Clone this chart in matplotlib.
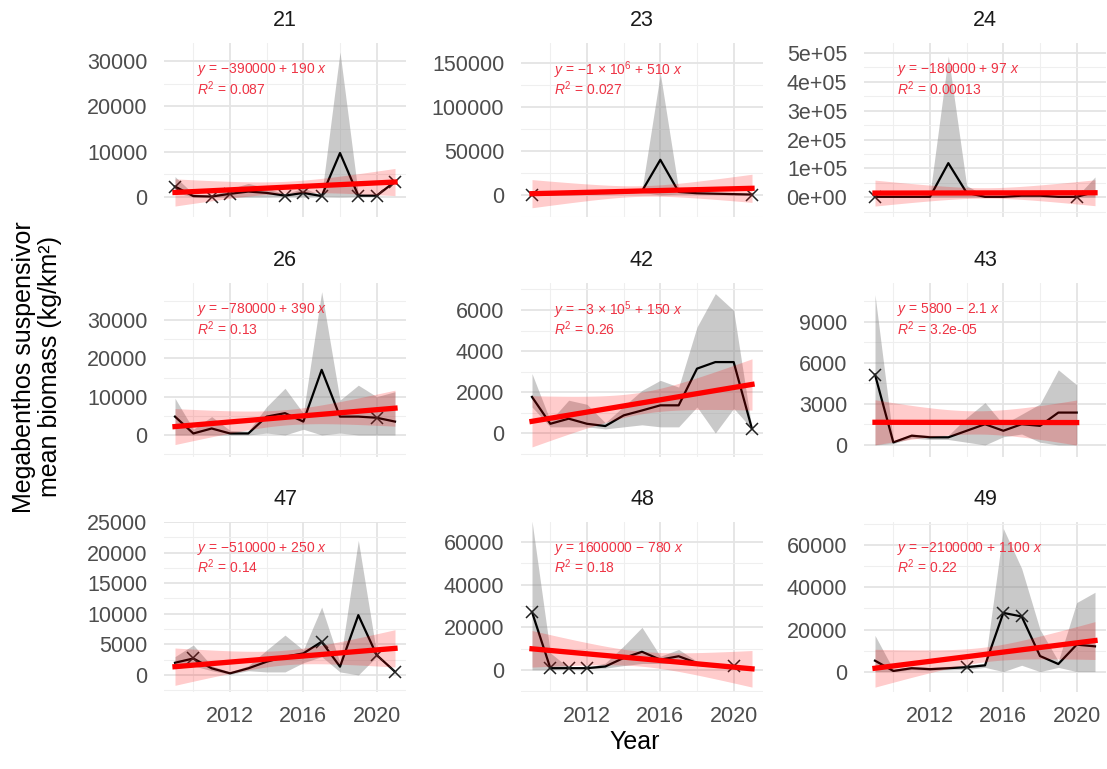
import matplotlib
matplotlib.use('Agg')
import matplotlib.pyplot as plt
from matplotlib.ticker import MultipleLocator, FuncFormatter
import numpy as np

plt.rcParams['font.family'] = ['Liberation Sans', 'DejaVu Sans']
plt.rcParams['mathtext.fontset'] = 'custom'
plt.rcParams['mathtext.rm'] = 'Liberation Sans'
plt.rcParams['mathtext.it'] = 'Liberation Sans:italic'

# ---- data ----
years = list(range(2009, 2022))
years_43 = list(range(2009, 2021))

mean_21 = [2300, 200, 100, 700, 1200, 900, 300, 900, 200, 9700, 300, 300, 3400]
upper_21 = [4500, 700, 300, 1800, 3000, 2000, 600, 2000, 400, 32000, 500, 500, 3600]
lower_21 = [1000, 0, 0, 0, 0, 0, 100, 0, 100, 0, 100, 100, 3200]
marks_21 = [2009, 2011, 2012, 2015, 2016, 2017, 2019, 2020, 2021]

mean_23 = [500, 1000, 1500, 2000, 2500, 3500, 4500, 40000, 3500, 2000, 1500, 1000, 500]
upper_23 = [600, 2000, 3000, 3500, 4000, 5000, 6000, 138000, 6000, 3000, 2500, 2000, 600]
lower_23 = [400, 0, 0, 500, 1000, 2000, 3000, 0, 1000, 1000, 500, 0, 400]
marks_23 = [2009, 2021]

mean_24 = [1000, 1000, 1000, 1000, 118000, 15000, 1000, 1000, 5000, 5000, 1000, 1000, 18000]
upper_24 = [3000, 2000, 2000, 10000, 490000, 40000, 5000, 3000, 15000, 12000, 3000, 2000, 70000]
lower_24 = [0, 0, 0, 0, 0, 0, 0, 0, 0, 0, 0, 0, 0]
marks_24 = [2009, 2020]

mean_26 = [4800, 400, 1700, 400, 400, 4800, 5700, 3500, 17000, 4800, 4800, 4500, 3500]
upper_26 = [9600, 1500, 4800, 1200, 1000, 7400, 12200, 5700, 37400, 9100, 13000, 10000, 11300]
lower_26 = [0, 0, 0, 0, 0, 500, 0, 1500, 0, 500, 0, 0, 0]
marks_26 = [2020]

mean_42 = [1760, 450, 700, 450, 340, 860, 1100, 1350, 1350, 3140, 3460, 3460, 200]
upper_42 = [2900, 600, 1600, 1400, 500, 1300, 2080, 2570, 2240, 5170, 6800, 5980, 200]
lower_42 = [1270, 300, 300, 300, 200, 300, 400, 300, 300, 1270, 0, 1200, 200]
marks_42 = [2021]

mean_43 = [5150, 190, 680, 560, 560, 1040, 1520, 1040, 1520, 1400, 2370, 2370]
upper_43 = [11000, 300, 800, 700, 700, 2000, 3100, 1500, 2250, 3000, 5500, 4400]
lower_43 = [0, 100, 500, 400, 400, 200, 0, 600, 800, 200, 0, 0]
marks_43 = [2009]

mean_47 = [2000, 2700, 1090, 270, 1090, 2170, 2990, 3530, 5430, 1360, 9780, 3260, 540]
upper_47 = [3000, 4900, 1500, 500, 1500, 4080, 6520, 4080, 11100, 2000, 22000, 3500, 600]
lower_47 = [1000, 1500, 700, 100, 700, 500, 500, 2000, 3000, 500, 0, 3000, 500]
marks_47 = [2010, 2017, 2020, 2021]

mean_48 = [27200, 800, 800, 800, 1600, 5600, 8500, 4800, 6400, 3200, 2400, 1600, 800]
upper_48 = [70000, 8000, 1000, 1000, 3200, 11200, 20000, 6400, 9600, 4000, 3000, 2000, 1000]
lower_48 = [0, 0, 600, 600, 800, 2000, 3000, 3000, 3000, 2000, 1500, 1200, 600]
marks_48 = [2009, 2010, 2011, 2012, 2020]

mean_49 = [5200, 300, 1600, 1150, 1600, 2100, 2950, 27900, 26200, 7400, 3600, 12800, 12000]
upper_49 = [17200, 1000, 2500, 2000, 2500, 3000, 4000, 68000, 49000, 20000, 5000, 32800, 37700]
lower_49 = [0, 0, 800, 500, 800, 1000, 2000, 0, 3000, 0, 2000, 0, 0]
marks_49 = [2014, 2016, 2017]

sites = ['21', '23', '24', '26', '42', '43', '47', '48', '49']
# linear trend (value at first / last year) and CI half-widths (centre / ends)
fit_start = [1000, 1500, 14000, 2200, 570, 1660, 1360, 9900, 1600]
fit_end = [3300, 7600, 15200, 7000, 2370, 1640, 4350, 500, 14750]
band_mid = [1300, 6000, 18000, 2000, 530, 850, 1200, 3500, 3500]
band_end = [3000, 16000, 45000, 4700, 1250, 1650, 3050, 8600, 9000]
eq_text = ['$y$ = −390000 + 190 $x$', '$y$ = −1 × 10$^{6}$ + 510 $x$',
           '$y$ = −180000 + 97 $x$', '$y$ = −780000 + 390 $x$',
           '$y$ = −3 × 10$^{5}$ + 150 $x$', '$y$ = 5800 − 2.1 $x$',
           '$y$ = −510000 + 250 $x$', '$y$ = 1600000 − 780 $x$',
           '$y$ = −2100000 + 1100 $x$']
r2_text = ['0.087', '0.027', '0.00013', '0.13', '0.26', '3.2e-05', '0.14', '0.18', '0.22']

panels = [
    (years, mean_21, upper_21, lower_21, marks_21),
    (years, mean_23, upper_23, lower_23, marks_23),
    (years, mean_24, upper_24, lower_24, marks_24),
    (years, mean_26, upper_26, lower_26, marks_26),
    (years, mean_42, upper_42, lower_42, marks_42),
    (years_43, mean_43, upper_43, lower_43, marks_43),
    (years, mean_47, upper_47, lower_47, marks_47),
    (years, mean_48, upper_48, lower_48, marks_48),
    (years, mean_49, upper_49, lower_49, marks_49),
]

# axis settings per panel
ylims = [(-4415, 33970), (-25000, 172700), (-69000, 535000),
         (-5740, 39660), (-1170, 7317), (-880, 11850),
         (-2780, 25000), (-10400, 69500), (-9700, 71100)]
ysteps = [10000, 50000, 100000, 10000, 2000, 3000, 5000, 20000, 20000]

W, H = 1107, 769
fig = plt.figure(figsize=(W / 100, H / 100), dpi=100)

col_left = [164, 521, 864]
col_w = 242
row_top = [43, 283, 522]
row_h = [174, 174, 170]

for i, site in enumerate(sites):
    r, c = divmod(i, 3)
    ax = fig.add_axes([col_left[c] / W, 1 - (row_top[r] + row_h[r]) / H,
                       col_w / W, row_h[r] / H])
    yrs, mean, upper, lower, marks = panels[i]
    yrs = np.array(yrs)
    mean = np.array(mean)

    ax.fill_between(yrs, lower, upper, color='grey', alpha=0.42, lw=0, zorder=2)
    ax.plot(yrs, mean, color='black', lw=1.6, zorder=3)
    mk = np.isin(yrs, marks)
    ax.plot(yrs[mk], mean[mk], 'x', color='#222222', ms=8, mew=1.1, zorder=3)

    xs = np.linspace(yrs[0], yrs[-1], 100)
    t = (xs - yrs[0]) / (yrs[-1] - yrs[0])
    fit = fit_start[i] + (fit_end[i] - fit_start[i]) * t
    hw = np.sqrt(band_mid[i] ** 2 + (band_end[i] ** 2 - band_mid[i] ** 2) * (2 * t - 1) ** 2)
    ax.fill_between(xs, fit - hw, fit + hw, color='red', alpha=0.2, lw=0, zorder=4)
    ax.plot(xs, fit, color='red', lw=3.8, zorder=5)

    ax.text(0.136, 0.845, eq_text[i], transform=ax.transAxes, color='#ee3344',
            fontsize=10, va='center', ha='left', zorder=6)
    ax.text(0.136, 0.735, '$R^2$ = ' + r2_text[i], transform=ax.transAxes,
            color='#ee3344', fontsize=10, va='center', ha='left', zorder=6)

    ax.set_xlim(2008.4, 2021.6)
    ax.set_ylim(*ylims[i])
    ax.set_xticks([2012, 2016, 2020])
    ax.set_xticks([2010, 2014, 2018], minor=True)
    ax.yaxis.set_major_locator(MultipleLocator(ysteps[i]))
    ax.yaxis.set_minor_locator(MultipleLocator(ysteps[i] / 2))
    if site == '24':
        ax.yaxis.set_major_formatter(FuncFormatter(lambda v, p: f'{v:.0e}'))
    else:
        ax.yaxis.set_major_formatter(FuncFormatter(lambda v, p: f'{int(round(v))}'))
    ax.grid(True, which='major', color='#e4e4e4', lw=1.3, zorder=0)
    ax.grid(True, which='minor', color='#efefef', lw=0.8, zorder=0)
    ax.set_axisbelow(True)
    for s in ax.spines.values():
        s.set_visible(False)
    ax.tick_params(which='both', length=0)
    ax.tick_params(axis='y', pad=12, labelsize=15.5, labelcolor='#4d4d4d')
    ax.tick_params(axis='x', pad=10, labelsize=15.5, labelcolor='#4d4d4d')
    if r < 2:
        ax.set_xticklabels([])
    ax.annotate(site, xy=(0.5, 1), xycoords='axes fraction', xytext=(0, 16),
                textcoords='offset points', ha='center', va='center',
                fontsize=15.5, color='#1a1a1a')

fig.text(37 / W, 0.5228, 'Megabenthos suspensivor\nmean biomass (kg/km²)',
         rotation=90, ha='center', va='center', fontsize=18, linespacing=1.15)
fig.text(635 / W, 1 - 742 / H, 'Year', ha='center', va='center', fontsize=18)

fig.savefig('out.png', dpi=100, facecolor='white')
